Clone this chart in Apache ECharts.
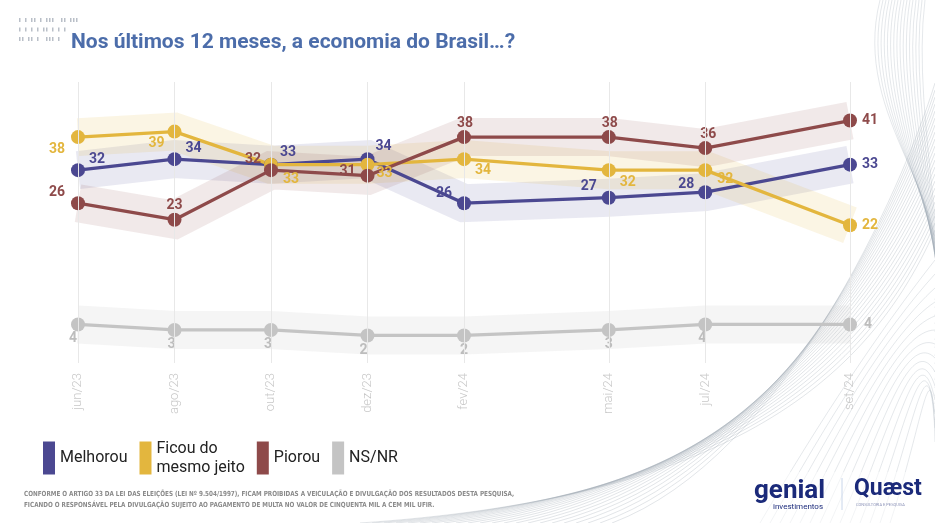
<!DOCTYPE html>
<html>
<head>
<meta charset="utf-8">
<script src="https://cdn.jsdelivr.net/npm/echarts@6/dist/echarts.min.js"></script>
<style>
html,body{margin:0;padding:0;background:#fff;}
#c{width:935px;height:523px;}
</style>
</head>
<body>
<div id="c"></div>
<script>
// ---- data ----
const categories = ['jun/23','ago/23','out/23','dez/23','fev/24','mai/24','jul/24','set/24'];
const monthIndex = [0, 2, 4, 6, 8, 11, 13, 16];
const melhorou = [32, 34, 33, 34, 26, 27, 28, 33];
const ficou    = [38, 39, 33, 33, 34, 32, 32, 22];
const piorou   = [26, 23, 32, 31, 38, 38, 36, 41];
const nsnr     = [4, 3, 3, 2, 2, 3, 4, 4];
const seriesNames = ['Melhorou', 'Ficou do mesmo jeito', 'Piorou', 'NS/NR'];

// ---- styling ----
const colors = ['#4B4891', '#E3B63E', '#8E4A4A', '#C4C4C4'];
const bandColors = ['rgba(75,72,145,0.12)', 'rgba(227,182,62,0.14)', 'rgba(142,74,74,0.12)', 'rgba(200,200,200,0.18)'];
const labelColors = ['#4B4891', '#E3B63E', '#8E4A4A', '#BDBDBD'];
const labelOffsets = [
  [[19,-11],[19,-11],[17,-12],[16,-13],[-20,-10],[-20,-11],[-19,-8],[20,0]],
  [[-21,12],[-18,12],[20,15],[17,9],[19,11],[19,12],[20,9],[20,0]],
  [[-21,-11],[0,-14],[-18,-11],[-20,-4],[1,-14],[1,-14],[3,-14],[20,0]],
  [[-5,14],[-3,15],[-3,15],[-4,15],[0,15],[0,15],[-3,14],[18,0]]
];
const allValues = [melhorou, ficou, piorou, nsnr];

function pts(vals){ return vals.map((v,i)=>[monthIndex[i], v]); }

const series = [];
// bands first
[3,0,1,2].forEach(k=>{
  series.push({
    type:'line', name:'band'+k, data:pts(allValues[k]), symbol:'none', silent:true,
    z:1, lineStyle:{width:38, color:bandColors[k], cap:'butt', join:'miter'},
    animation:false
  });
});
[3,0,1,2].forEach(k=>{
  series.push({
    type:'line', name:seriesNames[k], z:3,
    data: allValues[k].map((v,i)=>({
      value:[monthIndex[i], v],
      label:{offset:labelOffsets[k][i]}
    })),
    symbol:'circle', symbolSize:14,
    itemStyle:{color:colors[k]},
    lineStyle:{width:3.3, color:colors[k]},
    label:{show:true, position:'inside', formatter:p=>p.value[1],
      color:labelColors[k], fontFamily:'Roboto', fontWeight:'bold', fontSize:14},
    animation:false
  });
});
// vertical grid lines at survey months
series.push({
  type:'line', name:'grid', data:[], silent:true, z:0,
  markLine:{silent:true, symbol:'none', label:{show:false},
    lineStyle:{color:'#e8e8e8', width:1, type:'solid'},
    data: monthIndex.map(v=>({xAxis:v})), animation:false}
});

// decorative graphics
const graphic = [];
const rows = ['1 1 11 1 111  11 111', '1 1 1 1 11 1 1 1', '11 11 1  111 1'];
rows.forEach((r,ri)=>{
  let x = 19;
  for (const ch of r){
    if (ch==='1') graphic.push({type:'rect', shape:{x:x, y:18+ri*9.5, width:1.5, height:4}, style:{fill:'#b9bfc8'}, silent:true});
    x += 3;
  }
});
for (let i=0;i<22;i++){
  graphic.push({type:'bezierCurve', silent:true,
    shape:{x1:360+i*12, y1:523, cpx1:700+i*4, cpy1:500-i*2, cpx2:860+i*2, cpy2:400-i*10, x2:935, y2:230-i*7},
    style:{stroke:'rgba(150,160,172,0.4)', lineWidth:0.7, fill:null}});
}
for (let i=0;i<16;i++){
  graphic.push({type:'bezierCurve', silent:true,
    shape:{x1:880+i*3, y1:0, cpx1:850+i*4, cpy1:120, cpx2:960, cpy2:200+i*6, x2:935, y2:300+i*8},
    style:{stroke:'rgba(150,160,172,0.35)', lineWidth:0.7, fill:null}});
}
for (let i=0;i<14;i++){
  graphic.push({type:'bezierCurve', silent:true,
    shape:{x1:760+i*10, y1:523, cpx1:820+i*8, cpy1:420, cpx2:880+i*4, cpy2:330, x2:935, y2:260+i*14},
    style:{stroke:'rgba(150,160,172,0.35)', lineWidth:0.7, fill:null}});
}
graphic.push(
  {type:'rect', shape:{x:740, y:472, width:195, height:51}, style:{fill:'rgba(255,255,255,0.5)'}, silent:true},
  {type:'text', x:24, y:489, scaleX:0.9, style:{text:'CONFORME O ARTIGO 33 DA LEI DAS ELEIÇÕES (LEI Nº 9.504/1997), FICAM PROIBIDAS A VEICULAÇÃO E DIVULGAÇÃO DOS RESULTADOS DESTA PESQUISA,\nFICANDO O RESPONSÁVEL PELA DIVULGAÇÃO SUJEITO AO PAGAMENTO DE MULTA NO VALOR DE CINQUENTA MIL A CEM MIL UFIR.',
    font:'bold 7px "Liberation Sans Narrow", "DejaVu Sans Condensed", sans-serif', fill:'#8a8a8a', lineHeight:11}},
  {type:'text', left:754, top:478, style:{text:'genial', font:'bold 26px "Roboto", sans-serif', fill:'#1b2a7a'}},
  {type:'text', left:773, top:503, style:{text:'investimentos', font:'8px "Roboto", sans-serif', fill:'#1b2a7a'}},
  {type:'line', shape:{x1:842, y1:478, x2:842, y2:510}, style:{stroke:'#c9d6ea', lineWidth:1}},
  {type:'text', left:854, top:478, style:{text:'Quæst', font:'bold 23px "Roboto", sans-serif', fill:'#1b2a7a'}},
  {type:'text', left:856, top:503, style:{text:'CONSULTORIA E PESQUISA', font:'4px "Roboto", sans-serif', fill:'#8c93b8'}}
);

const option = {
  backgroundColor:'#fff',
  title:{text:'Nos últimos 12 meses, a economia do Brasil…?', left:66, top:27,
    textStyle:{fontFamily:'Roboto', fontWeight:'bold', fontSize:21, color:'#4C6DAA'}},
  legend:{
    data: seriesNames.map((n,k)=>({name:n, itemStyle:{color:colors[k]}})),
    left:38, top:434, icon:'rect', itemWidth:12, itemHeight:33, itemGap:12,
    selectedMode:false,
    formatter: n => n==='Ficou do mesmo jeito' ? 'Ficou do\nmesmo jeito' : n,
    textStyle:{fontFamily:'Roboto', fontSize:16, color:'#222', lineHeight:19}
  },
  grid:{left:78, right:85, top:82, bottom:160, containLabel:false},
  xAxis:{type:'value', min:0, max:16,
    axisLine:{show:false}, axisTick:{show:false}, splitLine:{show:false},
    axisLabel:{customValues:monthIndex, rotate:90, margin:10,
      formatter: v => { const i = monthIndex.indexOf(v); return i>=0 ? categories[i] : ''; },
      color:'#c8c8c8', fontFamily:'Roboto', fontWeight:300, fontSize:13}
  },
  yAxis:{type:'value', min:-3, max:48, show:false, splitLine:{show:false}},
  series: series,
  graphic: graphic
};
const chart = echarts.init(document.getElementById('c'), null, {renderer:'canvas'});
chart.setOption(option);
</script>
</body>
</html>
